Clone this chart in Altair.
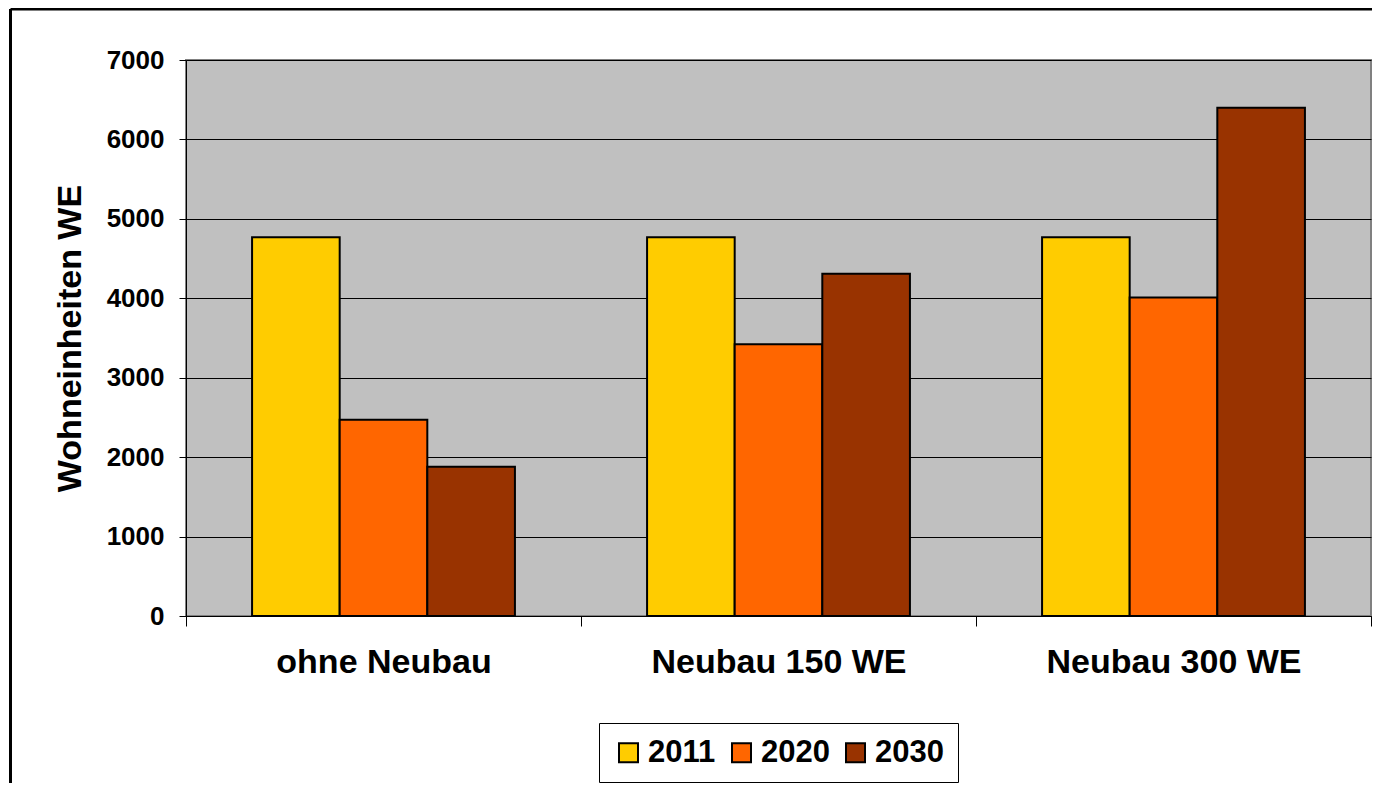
import altair as alt
import pandas as pd

categories = ["ohne Neubau", "Neubau 150 WE", "Neubau 300 WE"]
years = ["2011", "2020", "2030"]
values_2011 = [4770, 4770, 4770]
values_2020 = [2470, 3420, 4010]
values_2030 = [1880, 4310, 6400]
colors = ["#FFCC00", "#FF6600", "#993300"]
y_ticks = [0, 1000, 2000, 3000, 4000, 5000, 6000, 7000]

rows = []
for yr, vals in zip(years, [values_2011, values_2020, values_2030]):
    for c, v in zip(categories, vals):
        rows.append({"Kategorie": c, "Jahr": yr, "WE": v})
df = pd.DataFrame(rows)

FONT = "Liberation Sans"
W, H = 1185, 556

bars = alt.Chart(df).mark_bar(stroke="black", strokeWidth=2, opacity=1).encode(
    x=alt.X("Kategorie:N", sort=categories,
            scale=alt.Scale(paddingInner=0, paddingOuter=0),
            axis=alt.Axis(title=None, labelAngle=0, labelFont=FONT, labelFontSize=34,
                          labelFontWeight="bold", labelColor="black", labelPadding=19,
                          tickSize=10, tickColor="black", tickBand="extent",
                          domainColor="black", domainWidth=1, grid=False, labelLimit=0)),
    xOffset=alt.XOffset("Jahr:N", sort=years,
                        scale=alt.Scale(paddingInner=0, paddingOuter=0.754)),
    y=alt.Y("WE:Q", scale=alt.Scale(domain=[0, 7000], nice=False),
            axis=alt.Axis(title="Wohneinheiten WE", values=y_ticks, format="d",
                          labelFont=FONT, labelFontSize=26, labelFontWeight="bold",
                          labelColor="black", labelPadding=15, tickSize=7,
                          tickColor="black", domainColor="black", domainWidth=1,
                          grid=True, gridColor="black", gridWidth=1, gridOpacity=1,
                          titleFont=FONT, titleFontSize=34, titleFontWeight="bold",
                          titleColor="black", titleX=-106, titleY=H / 2,
                          titleAngle=270, titleAlign="center",
                          titleBaseline="alphabetic")),
    color=alt.Color("Jahr:N", sort=years,
                    scale=alt.Scale(domain=years, range=colors),
                    legend=alt.Legend(orient="none", legendX=413, legendY=663,
                                      direction="horizontal", title=None,
                                      symbolType="square", symbolSize=361,
                                      symbolStrokeColor="black", symbolStrokeWidth=2,
                                      symbolOpacity=1, labelFont=FONT, labelFontSize=31,
                                      labelFontWeight="bold", labelColor="black",
                                      labelOffset=4, columnPadding=10, padding=14,
                                      strokeColor="black", fillColor="white",
                                      labelLimit=0)),
)

frame_v = alt.Chart(alt.Data(values=[{}])).mark_rule(color="black", strokeWidth=3).encode(
    x=alt.value(-175.5), y=alt.value(-51), y2=alt.value(H + 200))
frame_h = alt.Chart(alt.Data(values=[{}])).mark_rule(color="black", strokeWidth=3).encode(
    x=alt.value(-175.5), x2=alt.value(W + 20), y=alt.value(-51))

chart = alt.layer(bars, frame_v, frame_h).properties(
    width=W, height=H,
    autosize=alt.AutoSizeParams(type="none"),
    padding={"left": 178, "top": 52, "right": 1, "bottom": 167},
    background="white",
).configure_view(fill="#C0C0C0", stroke="#808080", strokeWidth=2)

chart.save("out.html", embed_options={"renderer": "svg", "actions": False})
